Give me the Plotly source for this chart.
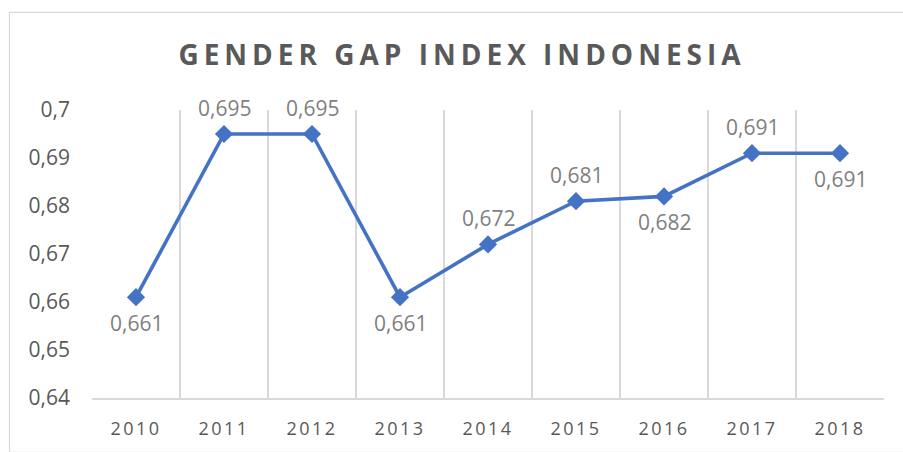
import plotly.graph_objects as go

years = ["2010", "2011", "2012", "2013", "2014", "2015", "2016", "2017", "2018"]
values = [0.661, 0.695, 0.695, 0.661, 0.672, 0.681, 0.682, 0.691, 0.691]
label_side = ["below", "above", "above", "below", "above", "above", "below", "above", "below"]
y_ticks = [0.64, 0.65, 0.66, 0.67, 0.68, 0.69, 0.70]
y_ticktext = ["0,64", "0,65", "0,66", "0,67", "0,68", "0,69", "0,7"]
title_text = "GENDER GAP INDEX INDONESIA"

W, H = 903, 452
L, R, T, B = 92, 19, 110, 50
pw, ph = W - L - R, H - T - B

fig = go.Figure()
fig.add_trace(go.Scatter(
    x=years, y=values, mode="lines+markers",
    line=dict(color="#4472C4", width=3.6),
    marker=dict(symbol="diamond", size=14, color="#4472C4"),
    hoverinfo="skip", showlegend=False,
))

for i, (v, s) in enumerate(zip(values, label_side)):
    fig.add_annotation(
        x=i, y=v, xref="x", yref="y",
        text=f"{v:.3f}".replace(".", ","), showarrow=False,
        yshift=26 if s == "above" else -26,
        font=dict(family="Open Sans", size=21, color="#7F7F7F"),
    )

# outer chart border
fig.add_shape(type="rect", xref="paper", yref="paper",
              x0=(9.5 - L) / pw, x1=(W + 5 - L) / pw,
              y0=(H - B - (H + 5)) / ph, y1=(H - B - 11) / ph,
              line=dict(color="#D9D9D9", width=1.2), fillcolor="rgba(0,0,0,0)",
              layer="below")

fig.update_layout(
    width=W, height=H,
    margin=dict(l=L, r=R, t=T, b=B),
    paper_bgcolor="white", plot_bgcolor="white",
    separators=",.",
    title=dict(
        text=f'<span style="letter-spacing:5px">{title_text}</span>',
        x=462 / W, xref="container", xanchor="center",
        y=1 - 55 / H, yref="container", yanchor="middle",
        font=dict(family="Open Sans", size=28, color="#595959", weight="bold"),
    ),
    xaxis=dict(
        type="category", tickson="boundaries",
        tickvals=years,
        ticktext=[f'<span style="letter-spacing:2.5px">{y}</span>' for y in years],
        showgrid=True, gridcolor="#D9D9D9", gridwidth=1.5,
        showline=True, linecolor="#D9D9D9", linewidth=1.5,
        ticks="", ticklabelstandoff=14,
        tickfont=dict(family="Open Sans", size=18, color="#595959"),
        range=[-0.5, 8.5], fixedrange=True,
    ),
    yaxis=dict(
        range=[0.64, 0.70], tickvals=y_ticks, ticktext=y_ticktext,
        showgrid=False, zeroline=False, showline=False, ticks="",
        ticklabelstandoff=21,
        tickfont=dict(family="Open Sans", size=21, color="#595959"),
        fixedrange=True,
    ),
)

fig.write_html("out.html")
